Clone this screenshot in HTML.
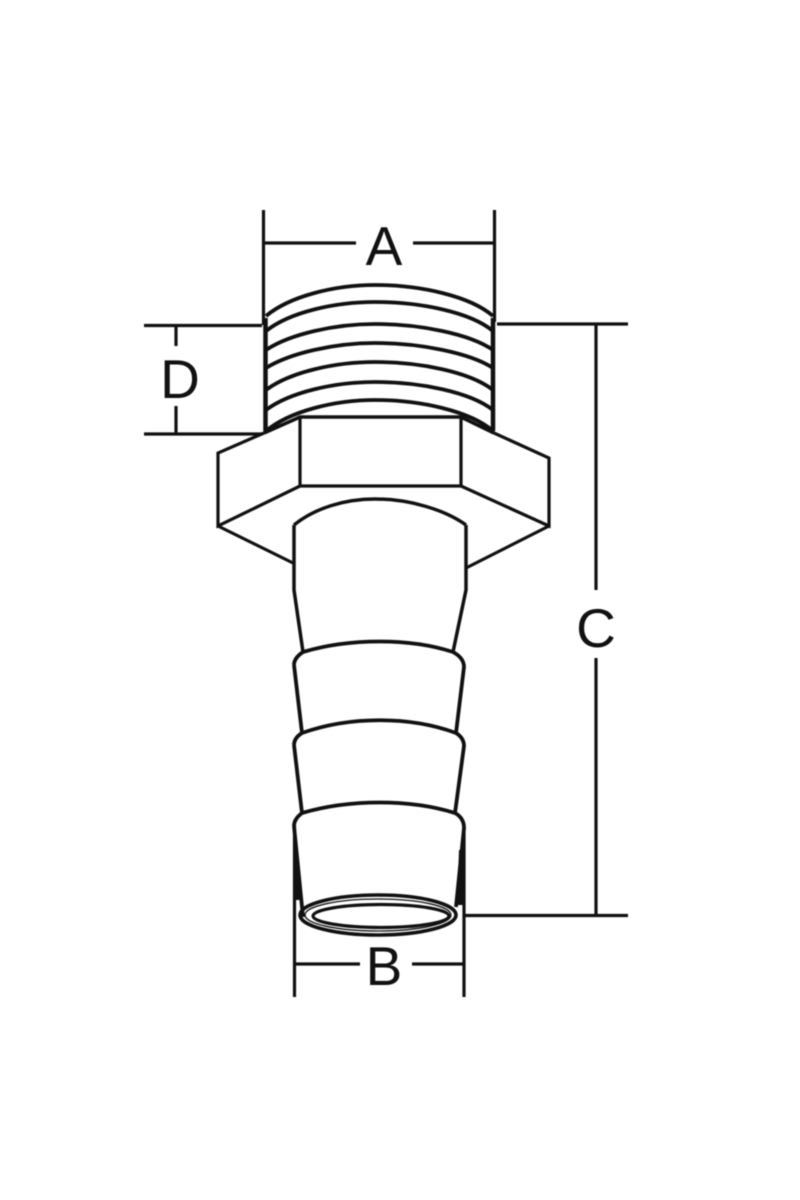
<!DOCTYPE html>
<html>
<head>
<meta charset="utf-8">
<style>
html,body{margin:0;padding:0;background:#fff;width:800px;height:1200px;overflow:hidden}
svg{display:block;filter:blur(0.45px)}
text{font-family:"Liberation Sans",sans-serif;font-size:55px;fill:#111;text-anchor:middle}
</style>
</head>
<body>
<svg width="800" height="1200" viewBox="0 0 800 1200" xmlns="http://www.w3.org/2000/svg">
<rect width="800" height="1200" fill="#fff"/>
<g fill="none" stroke="#111" stroke-width="3.200">
  <!-- dimension lines -->
  <path d="M263.500 210V325M494.500 210V322"/>
  <path d="M264 243H356M413 243H494"/>
  <path d="M144 325.500H262M144 434H262M176 325V346M176 406V434"/>
  <path d="M497 324H628M596 324V590M596 658V915M463 915.500H628"/>
  <path d="M294.500 826V997M464 828V997M296 964H360M412 964H463"/>

  <!-- thread -->
  <g stroke-width="3.800">
    <path d="M266 316C290 296 335 285 375 285C420 285 470 296 493 316"/>
    <path d="M266 331C290 312 335 302 375 302C420 302 470 312 493 331"/>
    <path d="M266 350C290 334 335 324 375 324C420 324 470 334 493 350"/>
    <path d="M266 368C290 353 335 343 375 343C420 343 470 353 493 368"/>
    <path d="M266 390C290 372 335 362 375 362C420 362 470 372 493 390"/>
    <path d="M266 410C290 392 335 382 375 382C420 382 470 392 493 410"/>
    <path d="M266 431C290 411 335 400 375 400C420 400 470 411 493 431"/>
    <path d="M265.500 318V431M493 318V431" stroke-width="4.500"/>
  </g>

  <!-- hex -->
  <path d="M264 433L218 453V526L300 486H461L549 526V458L494 433"/>
  <path d="M264 433L300 417H461L494 433" stroke-width="3.600"/>
  <path d="M300 417V486M461 417V486"/>
  <path d="M218 526L293 563M549 526L466 568"/>

  <!-- barb stem -->
  <path d="M294 525C315 508 345 499 375 499C410 499 445 510 466 525" stroke-width="3.500"/>
  <path d="M294 525V590L303 652M466 525V590L453 652" stroke-width="3.500"/>

  <!-- barbs -->
  <g stroke-width="3.800">
    <path d="M294 665Q294 658 303 652C350 638 410 638 453 652Q464 658 464 667L456 733"/>
    <path d="M294 665L302 733"/>
    <path d="M294 745Q294 738 302 733C350 716 410 716 456 733Q464 738 464 746L455 813"/>
    <path d="M294 745L302 813"/>
    <path d="M294 826Q294 819 302 813C350 799 410 799 455 813Q464 818 464 828L456 907"/>
    <path d="M294 826L303 917"/>
  </g>
  <path d="M295 860L299 860L302 900L296 900Z" fill="#111" stroke="none"/>
  <path d="M459 850L465 850L465 905L457 905Z" fill="#111" stroke="none"/>

  <!-- mouth -->
  <ellipse cx="378" cy="915" rx="78" ry="20" stroke-width="3.600"/>
  <ellipse cx="381" cy="916" rx="68" ry="11.500" stroke-width="3.200"/>
  <ellipse cx="378" cy="915" rx="73" ry="16" stroke-width="1.300"/>
</g>
<text x="384" y="265">A</text>
<text x="180" y="398">D</text>
<text x="596" y="647">C</text>
<text x="384" y="985">B</text>
</svg>
</body>
</html>
